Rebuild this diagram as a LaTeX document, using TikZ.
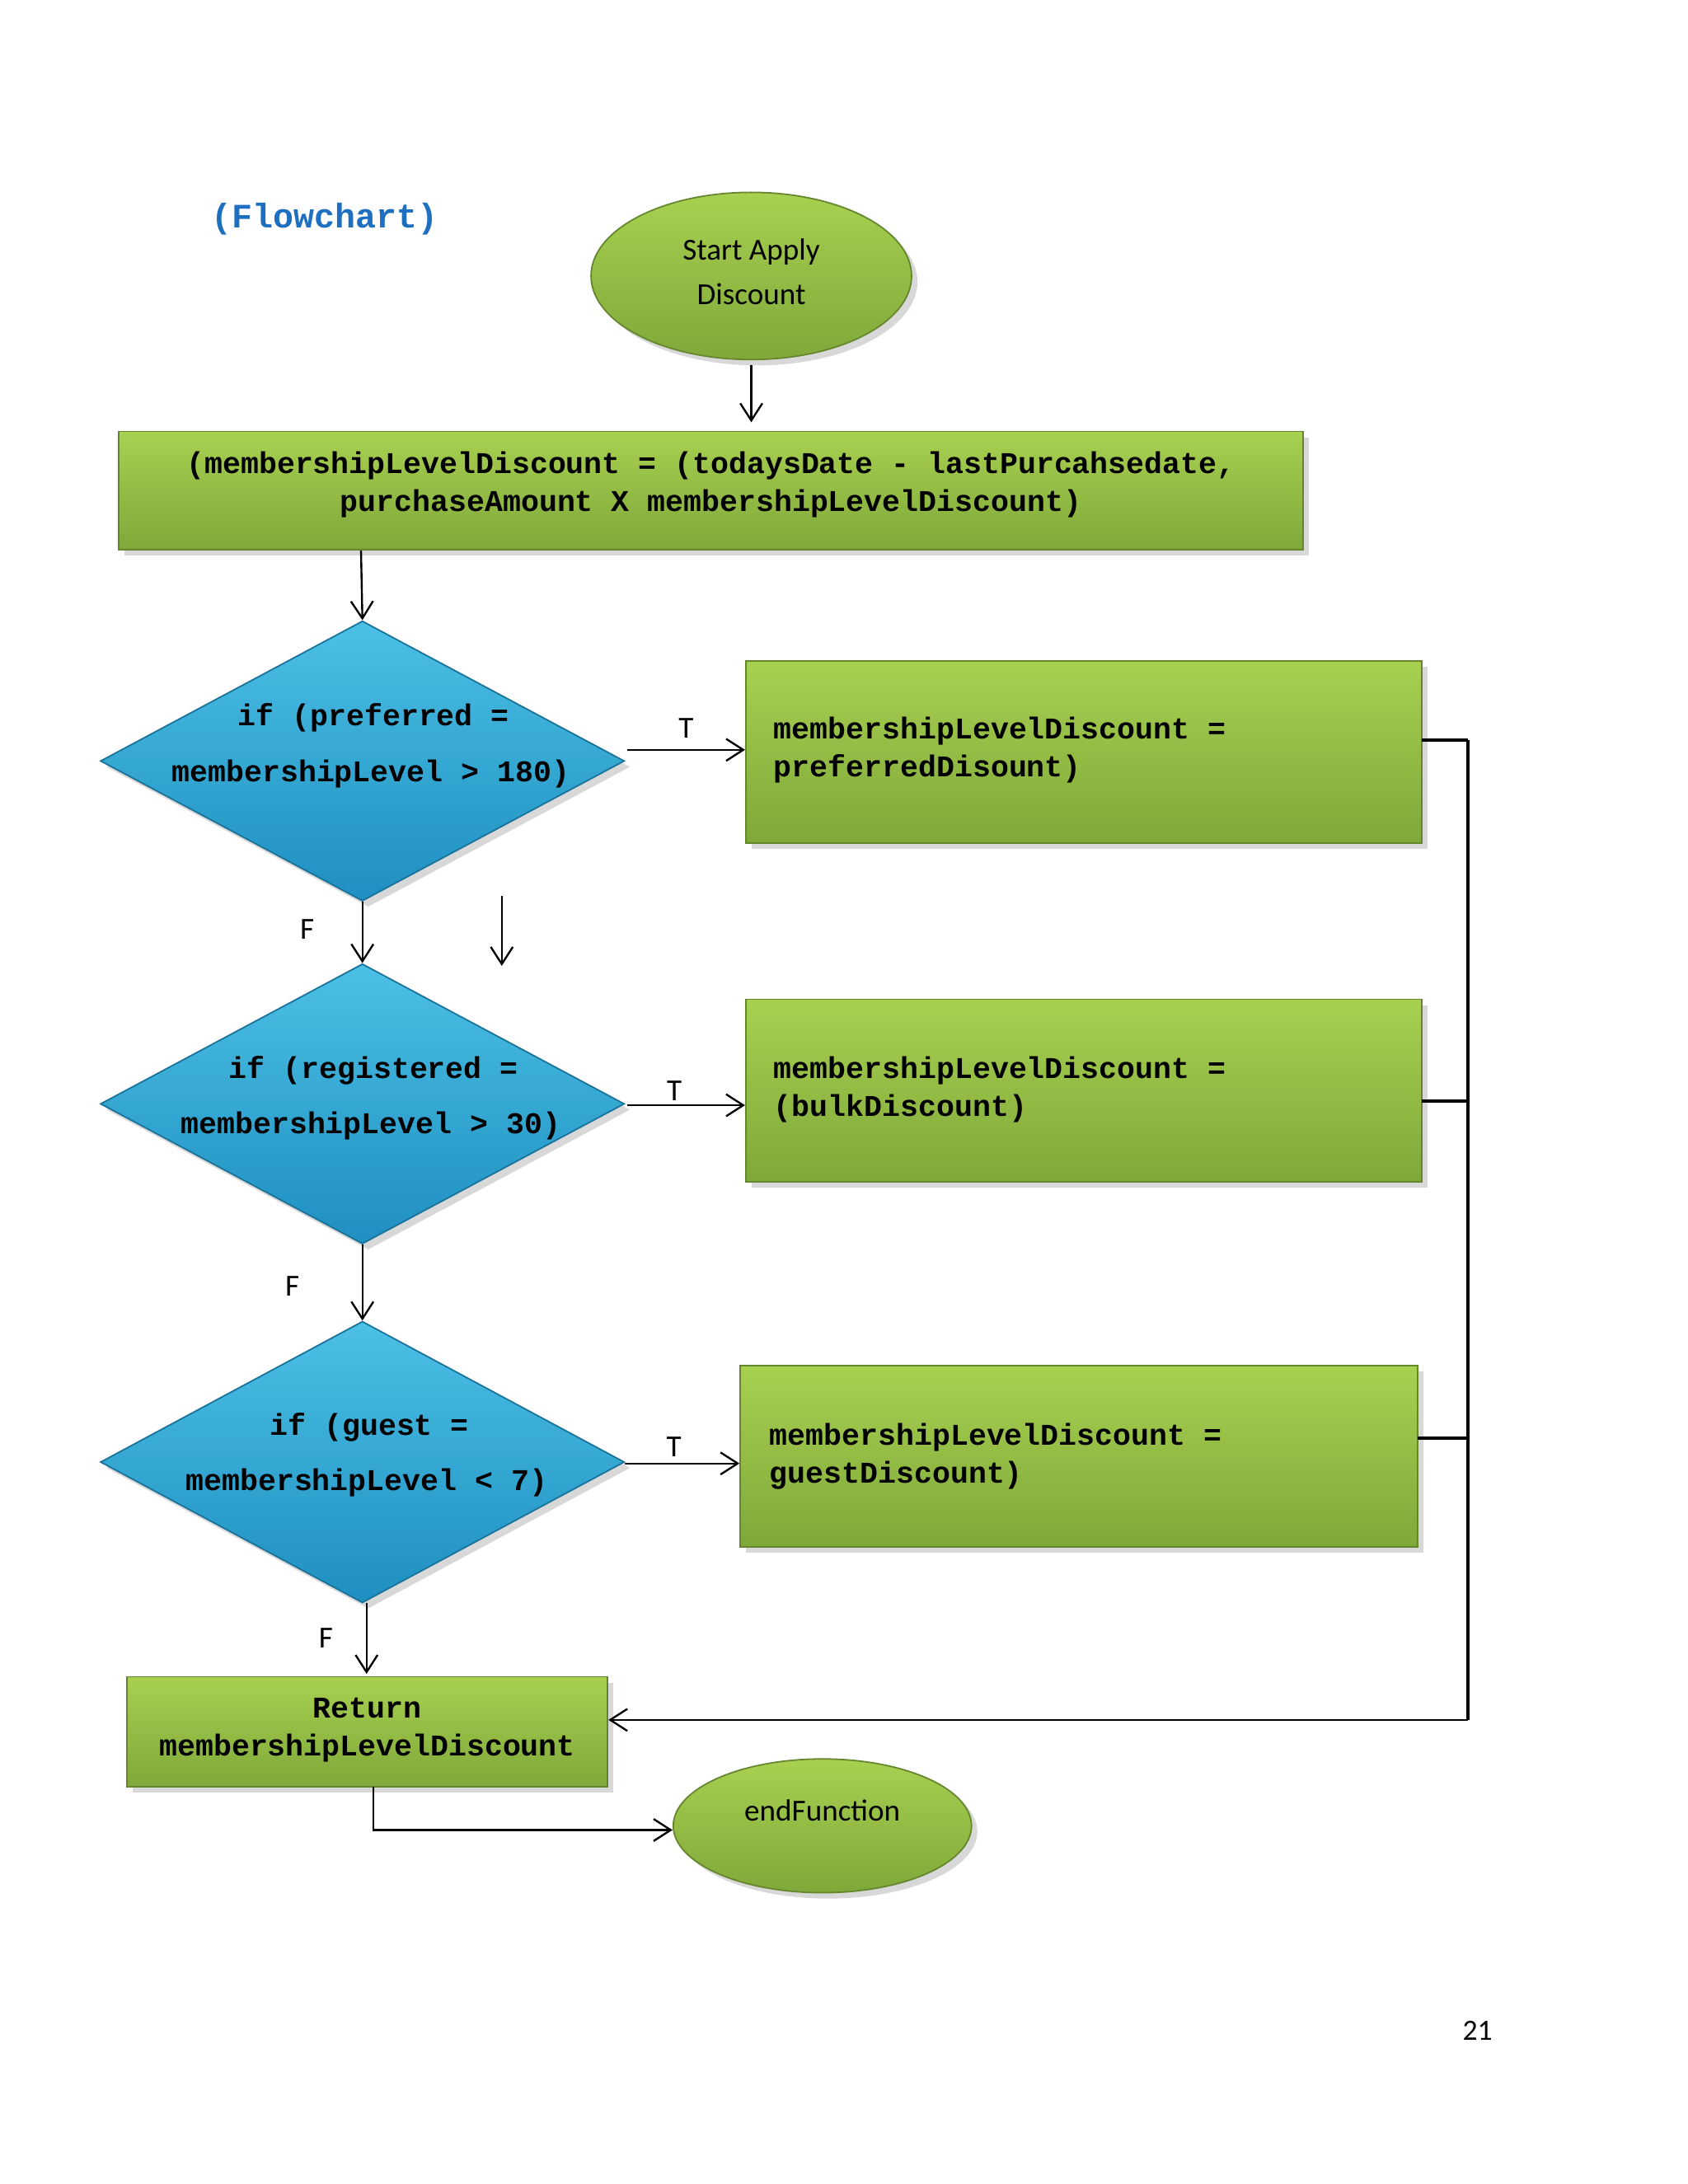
\documentclass[tikz,border=0pt]{standalone}
\usepackage{fontspec}
\setmainfont{Carlito}
\newfontfamily\mono{Liberation Mono}
\usetikzlibrary{shapes.geometric,arrows.meta,shadows}
\definecolor{gtop}{HTML}{A8D050}
\definecolor{gbot}{HTML}{7FA83A}
\definecolor{btop}{HTML}{4CC0E6}
\definecolor{bbot}{HTML}{1E8FC0}
\definecolor{fcblue}{HTML}{1F6FC0}
\tikzset{
 gbox/.style={rectangle,draw=gbot!80!black,line width=0.6pt,top color=gtop,bottom color=gbot,drop shadow={opacity=0.3},inner sep=0pt},
 gell/.style={ellipse,draw=gbot!80!black,line width=0.6pt,top color=gtop,bottom color=gbot,drop shadow={opacity=0.3},inner sep=0pt},
 dia/.style={diamond,draw=bbot!80!black,line width=0.6pt,top color=btop,bottom color=bbot,drop shadow={opacity=0.3},inner sep=0pt},
 mt/.style={font=\mono\bfseries\fontsize{12.3}{15.5}\selectfont},
 lt/.style={font=\fontsize{12.5}{18}\selectfont},
 arr/.style={-{Straight Barb[length=7pt,width=9pt]},line width=0.8pt},
 ln/.style={line width=1.2pt}
}
\begin{document}
\begin{tikzpicture}[x=0.02cm,y=-0.02cm]
\useasboundingbox[fill=white] (0,0) rectangle (1211,1567);
\node[mt,text=fcblue,font=\mono\bfseries\fontsize{14}{16}\selectfont] (title) at (233,157) {(Flowchart)};
\node[gell,minimum width=230\pgflinewidth,minimum width=4.6cm,minimum height=2.4cm] (start) at (539,198) {};
\node[lt,align=center] (startt) at (539,195) {Start Apply\\Discount};
\node[gbox,minimum width=17cm,minimum height=1.7cm] (r1) at (510,352) {};
\node[mt,align=center] (r1t) at (510,348) {(membershipLevelDiscount = (todaysDate - lastPurcahsedate,\\purchaseAmount X membershipLevelDiscount)};
\node[dia,minimum width=7.52cm,minimum height=4.02cm] (d1) at (260,546) {};
\node[mt] (d1a) at (268,515) {if (preferred =};
\node[mt] (d1b) at (266,555) {membershipLevel > 180)};
\node[dia,minimum width=7.52cm,minimum height=4.02cm] (d2) at (260,792) {};
\node[mt] (d2a) at (268,768) {if (registered =};
\node[mt] (d2b) at (266,808) {membershipLevel > 30)};
\node[dia,minimum width=7.52cm,minimum height=4.04cm] (d3) at (260,1049) {};
\node[mt] (d3a) at (265,1024) {if (guest =};
\node[mt] (d3b) at (263,1064) {membershipLevel < 7)};
\node[gbox,minimum width=9.7cm,minimum height=2.62cm] (r2) at (777.5,539.5) {};
\node[mt,align=left,anchor=west] (r2t) at (549,538) {membershipLevelDiscount =\\preferredDisount)};
\node[gbox,minimum width=9.7cm,minimum height=2.62cm] (r3) at (777.5,782.5) {};
\node[mt,align=left,anchor=west] (r3t) at (549,782) {membershipLevelDiscount =\\(bulkDiscount)};
\node[gbox,minimum width=9.72cm,minimum height=2.6cm] (r4) at (774,1045) {};
\node[mt,align=left,anchor=west] (r4t) at (546,1045) {membershipLevelDiscount =\\guestDiscount)};
\node[gbox,minimum width=6.9cm,minimum height=1.58cm] (r5) at (263.5,1242.5) {};
\node[mt,align=center] (r5t) at (263.5,1241) {Return\\membershipLevelDiscount};
\node[gell,minimum width=4.28cm,minimum height=1.92cm] (end) at (590,1310) {};
\node[lt] (endt) at (590,1299) {endFunction};
\node[font=\fontsize{12}{14}\selectfont] (pg) at (1060,1457) {21};
% connectors
\coordinate (s1) at (539,262);
\draw[arr] (s1) -- (539,303);
\draw[arr] (259,395) -- (d1.north);
\draw[arr] (450,538) -- (r2.west|-450,538) node[midway,above,lt,yshift=1pt] {T};
\draw[arr] (d1.south) -- (d2.north) node[lt,pos=0.45,left,xshift=-16pt] {F};
\coordinate (xa) at (360,643); \coordinate (xb) at (360,693);
\draw[arr] (xa) -- (xb);
\draw[arr] (450,793) -- (r3.west|-450,793) node[pos=0.4,above,lt,yshift=-2pt] {T};
\draw[arr] (d2.south) -- (d3.north) node[lt,pos=0.55,left,xshift=-22pt] {F};
\draw[arr] (448,1050) -- (r4.west|-448,1050) node[pos=0.43,above,lt,yshift=-1pt] {T};
\draw[arr] (263,1150) -- (263,1201) node[lt,pos=0.5,left,xshift=-10pt] {F};
\draw[ln] (1020,531) -- (1053,531);
\draw[ln] (1020,790) -- (1053,790);
\draw[ln] (1017,1032) -- (1053,1032);
\draw[ln] (1053,531) -- (1053,1234);
\draw[arr] (1053,1234) -- (r5.east|-1053,1234);
\draw[arr] (268,1282) -- (268,1313) -- (end.west|-268,1313);
\end{tikzpicture}
\end{document}
